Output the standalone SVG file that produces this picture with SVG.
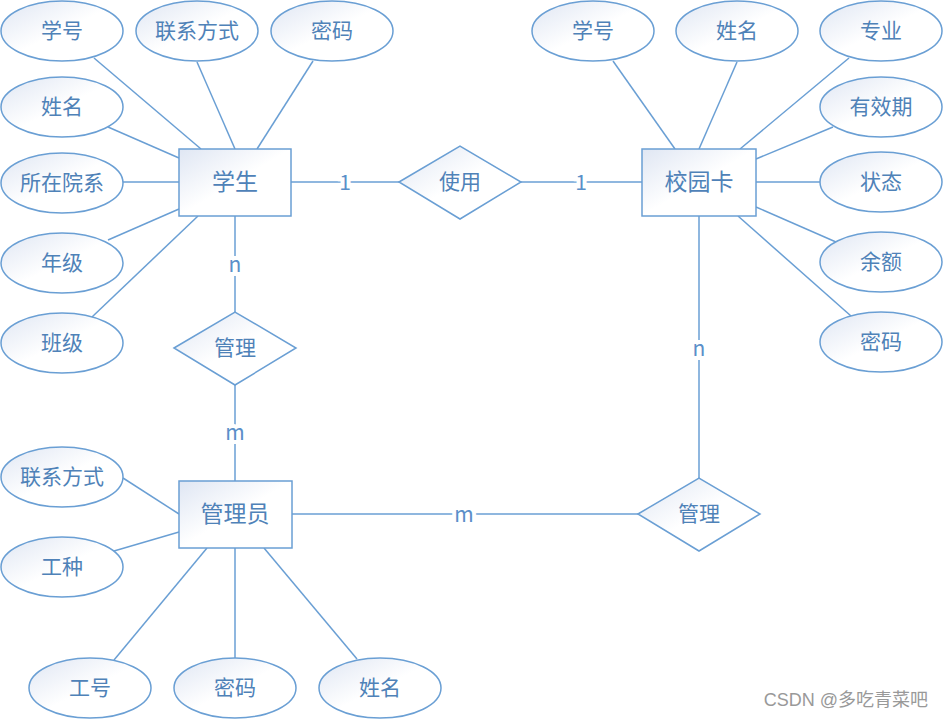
<svg xmlns="http://www.w3.org/2000/svg" width="943" height="720" viewBox="0 0 943 720">
<defs>
<linearGradient id="g" x1="0" y1="0" x2="1" y2="1">
<stop offset="0" stop-color="#dfe6f3"/>
<stop offset="0.5" stop-color="#ffffff"/>
<stop offset="1" stop-color="#ffffff"/>
</linearGradient>
<style>
.s{fill:url(#g);stroke:#6a9fd4;stroke-width:1.5}
.c line{stroke:#6a9fd4;stroke-width:1.5}
text{font-family:"Noto Sans CJK SC","Noto Sans",sans-serif;fill:#4f82b8;text-anchor:middle;dominant-baseline:central}
.a{font-size:21px}
.e{font-size:23px}
.l{font-size:21px;paint-order:stroke;stroke:#fff;stroke-width:8px;fill:#5b8fc9}
.w{font-size:18px;fill:#999;text-anchor:end;font-family:"Liberation Sans","Noto Sans CJK SC",sans-serif}
</style>
</defs>
<rect width="943" height="720" fill="#fff"/>
<g class="c" id="connectors">
<line x1="94" y1="58" x2="201" y2="149"/>
<line x1="197" y1="62" x2="235" y2="149"/>
<line x1="313" y1="61" x2="257" y2="149"/>
<line x1="108" y1="127" x2="179" y2="158"/>
<line x1="123" y1="182" x2="179" y2="182"/>
<line x1="108" y1="240" x2="179" y2="209"/>
<line x1="92" y1="317" x2="198" y2="216"/>
<line x1="291" y1="182" x2="399" y2="182"/>
<line x1="521" y1="182" x2="642" y2="182"/>
<line x1="613" y1="61" x2="675" y2="149"/>
<line x1="737" y1="62" x2="699" y2="149"/>
<line x1="849" y1="58" x2="740" y2="149"/>
<line x1="833" y1="127" x2="756" y2="159"/>
<line x1="756" y1="182" x2="820" y2="182"/>
<line x1="836" y1="242" x2="756" y2="207"/>
<line x1="851" y1="316" x2="738" y2="216"/>
<line x1="699" y1="216" x2="699" y2="478"/>
<line x1="292" y1="514" x2="638" y2="514"/>
<line x1="235" y1="216" x2="235" y2="312"/>
<line x1="235" y1="385" x2="235" y2="481"/>
<line x1="123" y1="478" x2="179" y2="514"/>
<line x1="114" y1="551" x2="179" y2="532"/>
<line x1="114" y1="660" x2="207" y2="548"/>
<line x1="235" y1="658" x2="235" y2="548"/>
<line x1="357" y1="659" x2="264" y2="548"/>
<text class="l" x="345" y="181">1</text>
<text class="l" x="581" y="181">1</text>
<text class="l" x="699" y="347">n</text>
<text class="l" x="235" y="263">n</text>
<text class="l" x="235" y="431">m</text>
<text class="l" x="464" y="513">m</text>
</g>
<g id="student"><rect class="s" x="179" y="149" width="112" height="67"/><text class="e" x="235" y="180">学生</text></g>
<g id="card"><rect class="s" x="642" y="149" width="114" height="67"/><text class="e" x="699" y="180">校园卡</text></g>
<g id="admin"><rect class="s" x="179" y="481" width="113" height="67"/><text class="e" x="235" y="512">管理员</text></g>
<g id="use"><polygon class="s" points="399,182 460,146 521,182 460,219"/><text class="a" x="460" y="180">使用</text></g>
<g id="manage1"><polygon class="s" points="174,348 235,312 296,348 235,385"/><text class="a" x="235" y="346">管理</text></g>
<g id="manage2"><polygon class="s" points="638,514 699,478 760,514 699,551"/><text class="a" x="699" y="512">管理</text></g>
<g id="s_xh"><ellipse class="s" cx="62" cy="31" rx="61" ry="30"/><text class="a" x="62" y="29">学号</text></g>
<g id="s_lx"><ellipse class="s" cx="197" cy="31" rx="61" ry="30"/><text class="a" x="197" y="29">联系方式</text></g>
<g id="s_mm"><ellipse class="s" cx="332" cy="31" rx="61" ry="30"/><text class="a" x="332" y="29">密码</text></g>
<g id="s_xm"><ellipse class="s" cx="62" cy="107" rx="61" ry="30"/><text class="a" x="62" y="105">姓名</text></g>
<g id="s_yx"><ellipse class="s" cx="62" cy="183" rx="61" ry="30"/><text class="a" x="62" y="181">所在院系</text></g>
<g id="s_nj"><ellipse class="s" cx="62" cy="263" rx="61" ry="30"/><text class="a" x="62" y="261">年级</text></g>
<g id="s_bj"><ellipse class="s" cx="62" cy="343" rx="61" ry="30"/><text class="a" x="62" y="341">班级</text></g>
<g id="c_xh"><ellipse class="s" cx="593" cy="31" rx="61" ry="30"/><text class="a" x="593" y="29">学号</text></g>
<g id="c_xm"><ellipse class="s" cx="737" cy="31" rx="61" ry="30"/><text class="a" x="737" y="29">姓名</text></g>
<g id="c_zy"><ellipse class="s" cx="881" cy="31" rx="61" ry="30"/><text class="a" x="881" y="29">专业</text></g>
<g id="c_yxq"><ellipse class="s" cx="881" cy="107" rx="61" ry="30"/><text class="a" x="881" y="105">有效期</text></g>
<g id="c_zt"><ellipse class="s" cx="881" cy="182" rx="61" ry="30"/><text class="a" x="881" y="180">状态</text></g>
<g id="c_ye"><ellipse class="s" cx="881" cy="262" rx="61" ry="30"/><text class="a" x="881" y="260">余额</text></g>
<g id="c_mm"><ellipse class="s" cx="881" cy="342" rx="61" ry="30"/><text class="a" x="881" y="340">密码</text></g>
<g id="a_lx"><ellipse class="s" cx="62" cy="477" rx="61" ry="30"/><text class="a" x="62" y="475">联系方式</text></g>
<g id="a_gz"><ellipse class="s" cx="62" cy="567" rx="61" ry="30"/><text class="a" x="62" y="565">工种</text></g>
<g id="a_gh"><ellipse class="s" cx="90" cy="688" rx="61" ry="30"/><text class="a" x="90" y="686">工号</text></g>
<g id="a_mm"><ellipse class="s" cx="235" cy="688" rx="61" ry="30"/><text class="a" x="235" y="686">密码</text></g>
<g id="a_xm"><ellipse class="s" cx="380" cy="688" rx="61" ry="30"/><text class="a" x="380" y="686">姓名</text></g>
<text class="w" x="928" y="700">CSDN @多吃青菜吧</text>
</svg>
